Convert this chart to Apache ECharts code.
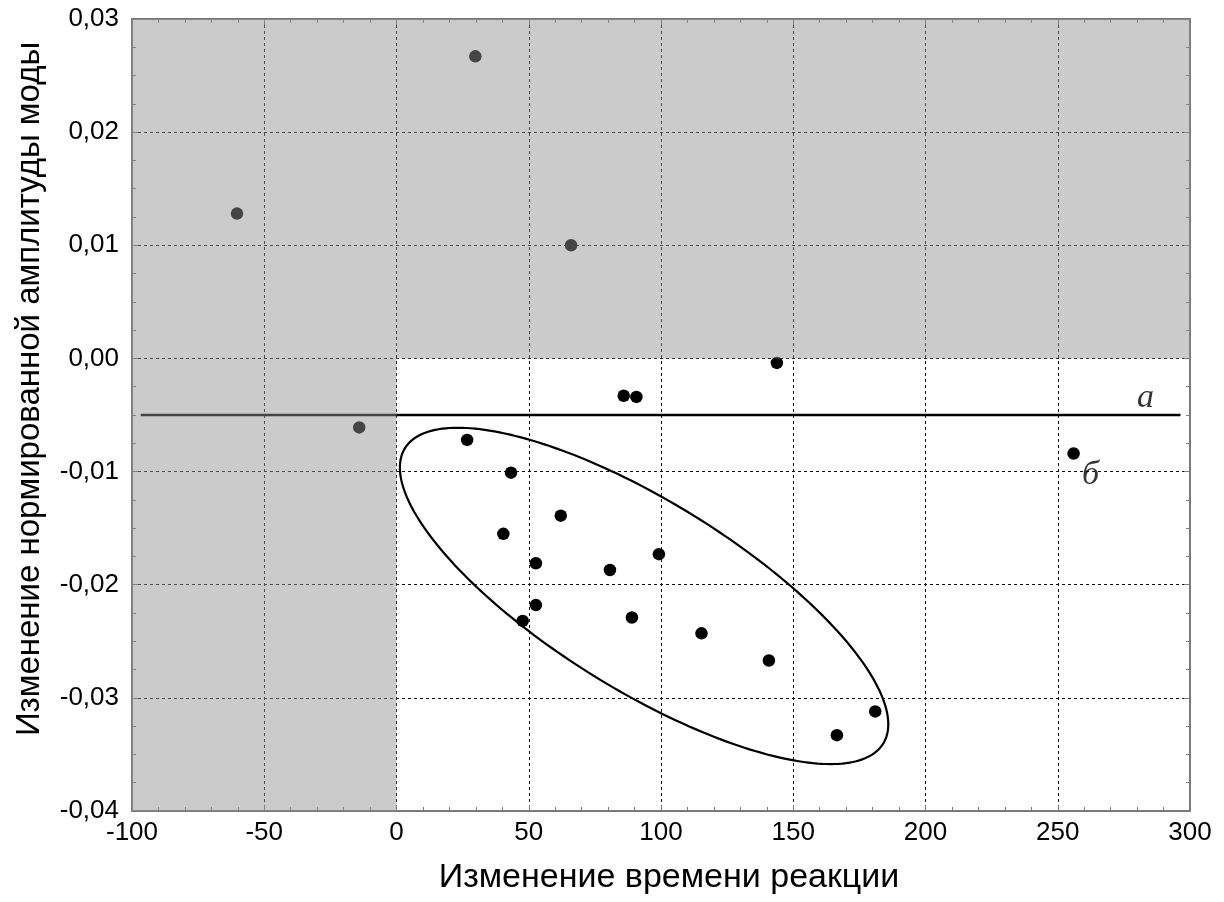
<!DOCTYPE html>
<html><head><meta charset="utf-8">
<script src="https://cdn.jsdelivr.net/npm/echarts@6/dist/echarts.min.js"></script>
<style>html,body{margin:0;padding:0;background:#fff}#c{width:1224px;height:902px}</style>
</head><body><div id="c"></div>
<script>
// Axis ticks
const xTickValues = [-100, -50, 0, 50, 100, 150, 200, 250, 300];
const yTickValues = [-0.04, -0.03, -0.02, -0.01, 0, 0.01, 0.02, 0.03];

// Points: change in reaction time (x) vs change in normalized mode amplitude (y)
const reactionTimeChange = [-60.3, 29.8, 66.0, -14.1, 26.7, 43.3, 40.4, 85.9, 90.7, 143.8, 62.1, 52.7, 80.7, 99.2, 256.0, 47.7, 52.7, 89.0, 115.3, 140.8, 181.0, 166.5];
const amplitudeChange   = [0.0128, 0.0267, 0.0100, -0.0061, -0.0072, -0.0101, -0.0155, -0.0033, -0.0034, -0.0004, -0.0139, -0.0181, -0.0187, -0.0173, -0.0084, -0.0232, -0.0218, -0.0229, -0.0243, -0.0267, -0.0312, -0.0333];

// Horizontal reference line "а"
const lineAX = [-96.7, 296.4];
const lineAY = [-0.005, -0.005];

// Ellipse (data units): center and two conjugate semi-axis vectors
const ellipseCenter = [93.6, -0.02099];
const ellipseAxisU = [90.4, -0.013056];
const ellipseAxisV = [-18.76, -0.0071];

// Shaded regions [x0, y0, x1, y1]
const shadeRegionA = [-100, -0.04, 0, 0.03];
const shadeRegionB = [0, 0, 300, 0.03];

// Annotation letters
const noteNames = ['а', 'б'];
const noteX = [283.2, 262.4];
const noteY = [-0.0035, -0.0103];

const FONT = "'Liberation Sans', Arial, sans-serif";

const points = reactionTimeChange.map((x, i) => [x, amplitudeChange[i]]);
const lineA = lineAX.map((x, i) => [x, lineAY[i]]);
const notes = noteNames.map((n, i) => ({ name: n, value: [noteX[i], noteY[i]] }));
const toArea = r => [{ xAxis: r[0], yAxis: r[1] }, { xAxis: r[2], yAxis: r[3] }];

const xMin = xTickValues[0], xMax = xTickValues[xTickValues.length - 1], xStep = xTickValues[1] - xTickValues[0];
const yMin = yTickValues[0], yMax = yTickValues[yTickValues.length - 1], yStep = +(yTickValues[1] - yTickValues[0]).toFixed(4);

const borderColor = '#7a7a7a';
const commonX = {
  type: 'value', min: xMin, max: xMax, interval: xStep,
  axisLine: { show: true, onZero: false, lineStyle: { color: borderColor, width: 2 } },
  axisTick: { show: true, inside: true, length: 6, lineStyle: { color: borderColor } },
  minorTick: { show: true, splitNumber: 5, length: 4, lineStyle: { color: borderColor } },
};
const commonY = {
  type: 'value', min: yMin, max: yMax, interval: yStep,
  axisLine: { show: true, onZero: false, lineStyle: { color: borderColor, width: 2 } },
  axisTick: { show: true, inside: true, length: 6, lineStyle: { color: borderColor } },
  minorTick: { show: true, splitNumber: 4, length: 4, lineStyle: { color: borderColor } },
};

const chart = echarts.init(document.getElementById('c'), null, { renderer: 'canvas' });
chart.setOption({
  animation: false,
  backgroundColor: '#fff',
  grid: { left: 132, right: 34, top: 19, bottom: 91, containLabel: false },
  xAxis: [
    Object.assign({}, commonX, {
      position: 'bottom',
      name: 'Изменение времени реакции', nameLocation: 'middle', nameGap: 50,
      nameTextStyle: { fontFamily: FONT, fontSize: 34, color: '#000', padding: [0, 0, 0, 16] },
      axisLabel: { fontFamily: FONT, fontSize: 26, color: '#000', margin: 9 },
      splitLine: { show: true, lineStyle: { color: '#111', type: [3, 3], width: 1 } },
    }),
    Object.assign({}, commonX, {
      position: 'top', axisLabel: { show: false }, splitLine: { show: false },
    }),
  ],
  yAxis: [
    Object.assign({}, commonY, {
      position: 'left',
      name: 'Изменение нормированной амплитуды моды', nameLocation: 'middle', nameGap: 86,
      nameTextStyle: { fontFamily: FONT, fontSize: 33, color: '#000', padding: [0, 0, 0, 52] },
      axisLabel: {
        fontFamily: FONT, fontSize: 26, color: '#000', margin: 13,
        formatter: v => v.toFixed(2).replace('.', ','),
      },
      splitLine: { show: true, lineStyle: { color: '#111', type: [3, 3], width: 1 } },
    }),
    Object.assign({}, commonY, {
      position: 'right', axisLabel: { show: false }, splitLine: { show: false },
    }),
  ],
  series: [
    {
      type: 'line', data: lineA, symbol: 'none', z: 3,
      lineStyle: { color: '#000', width: 2.6 },
    },
    {
      type: 'custom', z: 3, clip: false,
      data: [ellipseCenter],
      renderItem: function (params, api) {
        const pts = [];
        const N = 240;
        for (let i = 0; i <= N; i++) {
          const t = (i / N) * 2 * Math.PI;
          const c = Math.cos(t), s = Math.sin(t);
          pts.push(api.coord([
            ellipseCenter[0] + ellipseAxisU[0] * c + ellipseAxisV[0] * s,
            ellipseCenter[1] + ellipseAxisU[1] * c + ellipseAxisV[1] * s,
          ]));
        }
        return { type: 'polygon', shape: { points: pts }, style: { fill: 'none', stroke: '#000', lineWidth: 2.2 } };
      },
    },
    {
      type: 'scatter', data: points, symbol: 'circle', symbolSize: 12.5, z: 4,
      itemStyle: { color: '#000', opacity: 1 },
    },
    {
      type: 'line', data: [], z: 10, silent: true,
      markArea: {
        silent: true, z: 10,
        itemStyle: { color: 'rgba(145,145,145,0.475)', borderWidth: 0 },
        data: [toArea(shadeRegionA), toArea(shadeRegionB)],
      },
    },
    {
      type: 'scatter', data: notes, symbolSize: 0, z: 12, silent: true,
      label: {
        show: true, position: 'inside', formatter: p => p.name,
        fontFamily: "'Liberation Serif', 'Times New Roman', serif", fontStyle: 'italic',
        fontSize: 34, color: '#000',
      },
    },
  ],
});
</script>
</body></html>
